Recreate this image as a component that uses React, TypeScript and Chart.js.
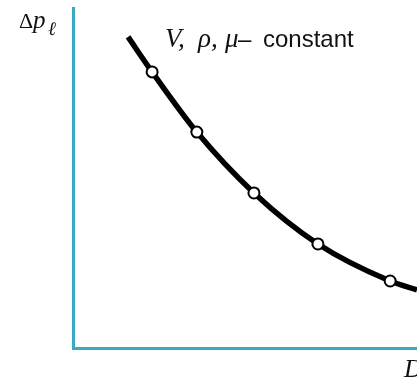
import React, { useEffect, useRef } from "react";
import { Chart, registerables } from "chart.js";

Chart.register(...registerables);

// Pressure drop along the pipe versus diameter (V, rho, mu held constant)
const diameterX = [1.6, 2.3, 3.6, 5.26, 7.12, 9.22, 10.0];
const pressureDropY = [9.15, 8.12, 6.35, 4.56, 3.06, 1.97, 1.71];
// measured samples shown as open circles
const sampleX = [2.3, 3.6, 5.26, 7.12, 9.22];
const sampleY = [8.12, 6.35, 4.56, 3.06, 1.97];

const AXIS_COLOR = "#3ba9c3";
const SERIF = "'Liberation Serif', 'DejaVu Serif', serif";
const SANS = "'Liberation Sans', Arial, sans-serif";

type Piece = { text: string; font: string; x: number; y: number };

const labelPieces: Piece[] = [
  // y-axis label: Δp_ℓ
  { text: "Δ", font: `22px ${SERIF}`, x: 19, y: 28 },
  { text: "p", font: `italic 25px ${SERIF}`, x: 33, y: 28 },
  { text: "ℓ", font: `italic 19px ${SERIF}`, x: 48, y: 35 },
  // curve annotation
  { text: "V,", font: `italic 27px ${SERIF}`, x: 165, y: 47 },
  { text: "ρ,", font: `italic 27px ${SERIF}`, x: 198, y: 47 },
  { text: "μ", font: `italic 27px ${SERIF}`, x: 225, y: 47 },
  { text: "–", font: `24px ${SANS}`, x: 238, y: 47 },
  { text: "constant", font: `24px ${SANS}`, x: 263, y: 47 },
  // x-axis label
  { text: "D", font: `italic 26px ${SERIF}`, x: 404, y: 377 },
];

const labelsPlugin = {
  id: "axisLabels",
  afterDraw(chart: Chart) {
    const ctx = chart.ctx;
    ctx.save();
    ctx.fillStyle = "#111";
    ctx.textBaseline = "alphabetic";
    ctx.textAlign = "left";
    for (const p of labelPieces) {
      ctx.font = p.font;
      ctx.fillText(p.text, p.x, p.y);
    }
    ctx.restore();
  },
};

export default function App() {
  const canvasRef = useRef<HTMLCanvasElement | null>(null);

  useEffect(() => {
    document.body.style.margin = "0";
    const canvas = canvasRef.current;
    if (!canvas) return;
    const chart = new Chart(canvas, {
      type: "line",
      data: {
        datasets: [
          {
            data: diameterX.map((x, i) => ({ x, y: pressureDropY[i] })),
            borderColor: "#000",
            borderWidth: 5.5,
            pointRadius: 0,
            cubicInterpolationMode: "monotone",
            fill: false,
            order: 2,
          },
          {
            data: sampleX.map((x, i) => ({ x, y: sampleY[i] })),
            showLine: false,
            pointRadius: 5.5,
            pointBorderWidth: 2,
            pointBackgroundColor: "#fff",
            pointBorderColor: "#000",
            order: 1,
          },
        ],
      },
      options: {
        responsive: false,
        animation: false,
        devicePixelRatio: 1,
        layout: { autoPadding: false, padding: { left: 73, top: 8, right: 0, bottom: 38 } },
        plugins: { legend: { display: false }, tooltip: { enabled: false } },
        scales: {
          x: {
            type: "linear",
            min: 0,
            max: 10,
            ticks: { display: false },
            grid: { display: false, drawTicks: false },
            border: { display: true, color: AXIS_COLOR, width: 3 },
          },
          y: {
            type: "linear",
            min: 0,
            max: 10,
            ticks: { display: false },
            grid: { display: false, drawTicks: false },
            border: { display: true, color: AXIS_COLOR, width: 3 },
          },
        },
      },
      plugins: [labelsPlugin],
    });
    return () => chart.destroy();
  }, []);

  return (
    <div style={{ position: "fixed", left: 0, top: 0, width: 417, height: 386, background: "#fff" }}>
      <canvas ref={canvasRef} width={417} height={386} />
    </div>
  );
}
